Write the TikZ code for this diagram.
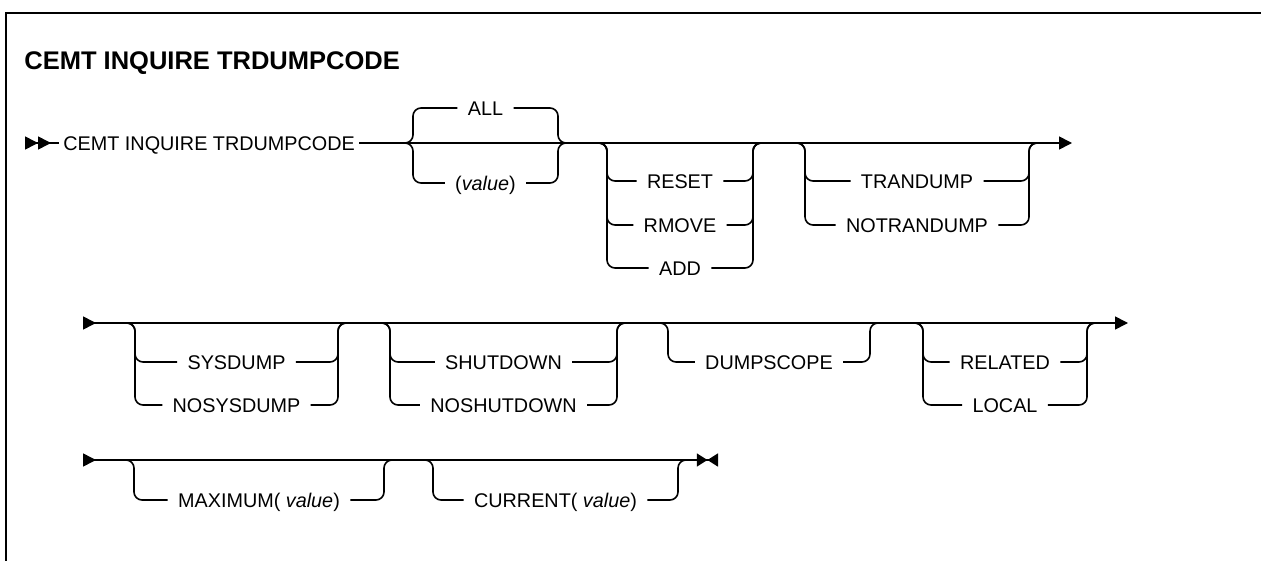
\documentclass[tikz,border=0pt]{standalone}
\usepackage{fontspec}
\setmainfont{Liberation Sans}
\usetikzlibrary{arrows.meta}

\tikzset{
  kw/.style={font=\fontsize{9.9}{12}\selectfont, inner xsep=5pt, inner ysep=0pt,
             text height=7.1pt, text depth=0pt},
  rail/.style={line width=0.8pt},
  br/.style={line width=0.8pt, rounded corners=4pt},
  synin/.tip={Triangle[reversed,length=6.5pt,width=6.5pt,sep=0pt]},
  synout/.tip={Triangle[length=6.5pt,width=6.5pt,sep=0pt]},
}

\begin{document}
\begin{tikzpicture}[x=0.5pt, y=-0.5pt]
  \useasboundingbox (0,0) rectangle (1261,561);
  \draw[line width=1.15pt] (6,561) -- (6,13) -- (1261,13);

  \node[anchor=base west, inner sep=0pt, font=\fontsize{12.75}{15}\selectfont\bfseries]
    (title) at (24,70) {CEMT INQUIRE TRDUMPCODE};

  % first line
  \coordinate (r1s) at (25,143);
  \coordinate (r1e) at (1072,143);
  \node[kw, anchor=west, inner xsep=2pt] (cmd) at (59,143) {CEMT INQUIRE TRDUMPCODE};
  \draw[rail, {synin[]synin[]}-] (r1s) -- (cmd);
  \draw[rail, -synout] (cmd) -- (r1e);

  \coordinate (aL) at (413,143);
  \coordinate (aR) at (558,143);
  \node[kw] (all) at (485.5,108) {ALL};
  \node[kw] (val) at (485.5,183) {(\textit{value})};
  \draw[br] ([xshift=-4pt]aL) -- (aL) |- (all) -| (aR) -- ([xshift=4pt]aR);
  \draw[br] ([xshift=-4pt]aL) -- (aL) |- (val) -| (aR) -- ([xshift=4pt]aR);

  \coordinate (bL) at (607,143);
  \coordinate (bR) at (753,143);
  \node[kw] (reset) at (680,181) {RESET};
  \node[kw] (rmove) at (680,225) {RMOVE};
  \node[kw] (add) at (680,268) {ADD};
  \draw[br] ([xshift=-4pt]bL) -- (bL) |- (reset) -| (bR) -- ([xshift=4pt]bR);
  \draw[br] ([xshift=-4pt]bL) -- (bL) |- (rmove) -| (bR) -- ([xshift=4pt]bR);
  \draw[br] ([xshift=-4pt]bL) -- (bL) |- (add) -| (bR) -- ([xshift=4pt]bR);

  \coordinate (cL) at (805,143);
  \coordinate (cR) at (1029,143);
  \node[kw] (trandump) at (917,181) {TRANDUMP};
  \node[kw] (notrandump) at (917,225) {NOTRANDUMP};
  \draw[br] ([xshift=-4pt]cL) -- (cL) |- (trandump) -| (cR) -- ([xshift=4pt]cR);
  \draw[br] ([xshift=-4pt]cL) -- (cL) |- (notrandump) -| (cR) -- ([xshift=4pt]cR);

  % second line
  \coordinate (r2s) at (83,323);
  \coordinate (r2e) at (1128,323);
  \draw[rail, synin-synout] (r2s) -- (r2e);

  \coordinate (dL) at (135,323);
  \coordinate (dR) at (338,323);
  \node[kw] (sysdump) at (236.5,362) {SYSDUMP};
  \node[kw] (nosysdump) at (236.5,405) {NOSYSDUMP};
  \draw[br] ([xshift=-4pt]dL) -- (dL) |- (sysdump) -| (dR) -- ([xshift=4pt]dR);
  \draw[br] ([xshift=-4pt]dL) -- (dL) |- (nosysdump) -| (dR) -- ([xshift=4pt]dR);

  \coordinate (eL) at (390,323);
  \coordinate (eR) at (617,323);
  \node[kw] (shutdown) at (503.5,362) {SHUTDOWN};
  \node[kw] (noshutdown) at (503.5,405) {NOSHUTDOWN};
  \draw[br] ([xshift=-4pt]eL) -- (eL) |- (shutdown) -| (eR) -- ([xshift=4pt]eR);
  \draw[br] ([xshift=-4pt]eL) -- (eL) |- (noshutdown) -| (eR) -- ([xshift=4pt]eR);

  \coordinate (fL) at (668,323);
  \coordinate (fR) at (870,323);
  \node[kw] (dumpscope) at (769,362) {DUMPSCOPE};
  \draw[br] ([xshift=-4pt]fL) -- (fL) |- (dumpscope) -| (fR) -- ([xshift=4pt]fR);

  \coordinate (gL) at (923,323);
  \coordinate (gR) at (1087,323);
  \node[kw] (related) at (1005,362) {RELATED};
  \node[kw] (local) at (1005,405) {LOCAL};
  \draw[br] ([xshift=-4pt]gL) -- (gL) |- (related) -| (gR) -- ([xshift=4pt]gR);
  \draw[br] ([xshift=-4pt]gL) -- (gL) |- (local) -| (gR) -- ([xshift=4pt]gR);

  % third line
  \coordinate (r3s) at (83,460);
  \coordinate (r3e) at (718,460);
  \draw[rail, synin-{Triangle[length=5.3pt,width=6.5pt,sep=0pt]Triangle[reversed,length=5.3pt,width=6.5pt]}]
    (r3s) -- (r3e);

  \coordinate (hL) at (134,460);
  \coordinate (hR) at (384,460);
  \node[kw] (maximum) at (259,500) {MAXIMUM( \textit{value})};
  \draw[br] ([xshift=-4pt]hL) -- (hL) |- (maximum) -| (hR) -- ([xshift=4pt]hR);

  \coordinate (iL) at (433,460);
  \coordinate (iR) at (678,460);
  \node[kw] (current) at (555.5,500) {CURRENT( \textit{value})};
  \draw[br] ([xshift=-4pt]iL) -- (iL) |- (current) -| (iR) -- ([xshift=4pt]iR);
\end{tikzpicture}
\end{document}
